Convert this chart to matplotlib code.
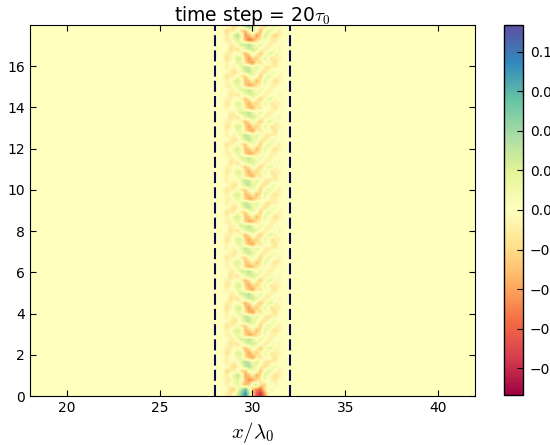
import numpy as np
import matplotlib
import matplotlib.pyplot as plt
from matplotlib.colors import Normalize

matplotlib.use('Agg')
plt.rcParams['mathtext.fontset'] = 'cm'
plt.rcParams['font.family'] = 'DejaVu Sans'

# field values in units of 0.01, columns at x = 28.4 ... 31.6 (step 0.2)
x_cols = [28.4, 28.6, 28.8, 29.0, 29.2, 29.4, 29.6, 29.8, 30.0,
          30.2, 30.4, 30.6, 30.8, 31.0, 31.2, 31.4, 31.6]

# bottom rows (y ~ 0 .. 0.66), strong red / blue spots
bottom_rows = [
    [0, -1, -2, 0, 3, 6, 9, 4, -3, -8, -10, -6, -1, 0, 0, 0, 0],
    [0, 0, -2, -3, 1, 4, 7, 2, -4, -6, -7, -3, 1, -1, 0, 0, 0],
    [0, -1, 0, 1, 2, -2, -4, -3, 2, 3, -2, -3, 0, 1, -1, 0, 0],
]

# one period of the chevron pattern (about 1.1 lambda_0, 5 rows), two variants
tile_a = [
    [0, -1, -1, 1, 2, 0, -3, -5, -4, -2, -1, 1, 0, -1, -1, 0, 0],
    [0, -1, 0, 2, 3, 1, -4, -3, -1, -4, -2, 2, 1, -1, -2, -1, 0],
    [0, -2, -1, -1, 1, -2, -3, 0, 1, 0, -3, 0, 2, 1, 0, -1, 0],
    [0, 0, -1, -2, -1, 1, 3, 4, 2, 1, -1, -2, -1, 1, 1, 0, 0],
    [0, -1, 0, -1, 0, 2, 4, 3, 1, 2, 1, -1, -2, -1, -1, 0, 0],
]
tile_b = [
    [0, -1, 0, 0, 2, 1, -2, -4, -5, -1, -2, 0, 1, -1, -2, 0, 0],
    [0, -2, -1, 1, 3, 2, -3, -5, -2, -3, -1, 2, 0, -2, -1, -1, 0],
    [0, -1, -1, 0, 0, -1, -4, -2, 1, -1, -3, -1, 2, 2, -1, 0, 0],
    [0, 0, -2, -1, -2, 0, 2, 3, 3, 2, 0, -1, -1, 0, 1, -1, 0],
    [0, 0, -1, -1, 1, 3, 3, 4, 2, 0, 2, 0, -1, -1, 0, 0, 0],
]

# which variant each period uses going up, and its strength
period_kind = ['A', 'B', 'A', 'B', 'B', 'A', 'B', 'A',
               'A', 'B', 'A', 'B', 'B', 'A', 'B', 'A']
period_amp = [1.2, 1.0, 1.0, 1.1, 1.0, 0.9, 1.0, 1.0,
              1.0, 0.9, 1.0, 1.0, 0.9, 1.0, 1.1, 1.4]

row_dy = 0.22
x_ticks = [20, 25, 30, 35, 40]
y_ticks = [0, 2, 4, 6, 8, 10, 12, 14, 16]
cbar_ticks = [0.1, 0.075, 0.05, 0.025, 0.0, -0.025, -0.05, -0.075, -0.1]
vlim = 0.117

tiles = {'A': tile_a, 'B': tile_b}
rows = [np.array(r, dtype=float) for r in bottom_rows]
for kind, amp in zip(period_kind, period_amp):
    for r in tiles[kind]:
        rows.append(amp * np.array(r, dtype=float))
field = np.array(rows) * 0.01

fig = plt.figure(figsize=(5.5, 4.45), dpi=100)
ax = fig.add_axes([30 / 550, 49 / 445, 445 / 550, 371 / 445])
cax = fig.add_axes([504 / 550, 50 / 445, 19 / 550, 370 / 445])

cmap = plt.get_cmap('Spectral')
norm = Normalize(vmin=-vlim, vmax=vlim)
ax.set_facecolor(cmap(norm(0.0)))

dx = x_cols[1] - x_cols[0]
extent = [x_cols[0] - dx / 2, x_cols[-1] + dx / 2, 0, len(rows) * row_dy]
im = ax.imshow(field, origin='lower', extent=extent, cmap=cmap, norm=norm,
               aspect='auto', interpolation='bilinear')

for xv in (28, 32):
    ax.axvline(xv, color='#0a0a50', lw=1.5, dashes=(5.3, 2))

ax.set_xlim(18, 42)
ax.set_ylim(0, 18)
ax.set_xticks(x_ticks)
ax.set_yticks(y_ticks)
ax.tick_params(direction='in', top=True, right=True, length=4, labelsize=10)
ax.set_xlabel(r'$x/\lambda_0$', fontsize=15)
ax.set_title(r'time step = 20$\tau_0$', fontsize=13.5, pad=3)

cb = fig.colorbar(im, cax=cax, ticks=cbar_ticks)
cb.ax.tick_params(direction='in', length=4, labelsize=10, pad=5)
cb.outline.set_linewidth(1.0)

fig.savefig('out.png', dpi=100)
plt.close(fig)
